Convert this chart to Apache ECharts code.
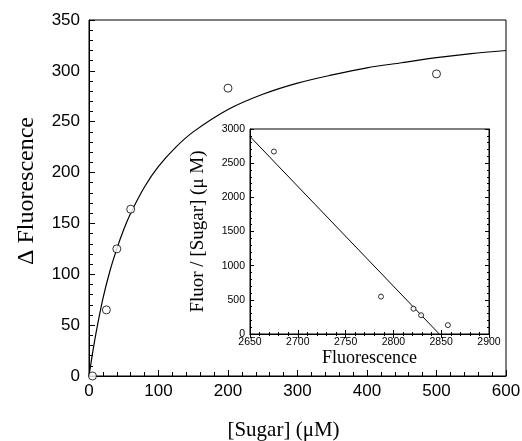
<!DOCTYPE html>
<html>
<head>
<meta charset="utf-8">
<script src="https://cdn.jsdelivr.net/npm/echarts@6/dist/echarts.min.js"></script>
<style>
  html, body { margin: 0; padding: 0; background: #fff; }
  #chart { width: 522px; height: 441px; }
</style>
</head>
<body>
<div id="chart"></div>
<script>
// main plot: measured points
const sugarConc = [5, 25, 40, 60, 200, 500]
const deltaFluor = [0, 65, 125, 164, 283, 297]

// main plot: fitted curve
const curveX = [0, 5, 10, 20, 30, 40, 50, 60, 80, 100, 125, 150, 200, 250, 300, 350, 400, 450, 500, 550, 600]
const curveY = [0, 22, 42, 76, 103, 125, 144, 160, 186, 206, 225, 240, 262, 277, 288, 296, 303, 308, 313, 317, 320]

// inset: Scatchard-type plot
const insetFluor = [2675, 2787, 2821, 2829, 2857]
const insetRatio = [2670, 547, 370, 275, 130]
const insetLineX = [2650, 2848]
const insetLineY = [2890, 0]

const chart = echarts.init(document.getElementById('chart'))

const sans = "'Liberation Sans', Arial, sans-serif"
const serif = "'Liberation Serif', 'Times New Roman', serif"

function pairs(xs, ys) {
  return xs.map((x, i) => [x, ys[i]])
}

const plain = v => String(v)
const tickIn = (len) => ({ show: true, inside: true, length: len, lineStyle: { color: '#000', width: 1 } })
const minorIn = (len) => ({ show: true, splitNumber: 5, length: len, lineStyle: { color: '#000', width: 1 } })

chart.setOption({
  animation: false,
  backgroundColor: '#fff',
  grid: [
    { left: 89, right: 16, top: 20, bottom: 65, show: true, borderColor: '#000', borderWidth: 1, backgroundColor: 'transparent', outerBoundsMode: 'none' },
    { left: 250, right: 33, top: 129, bottom: 107, show: true, borderColor: '#000', borderWidth: 1, backgroundColor: '#fff', outerBoundsMode: 'none' }
  ],
  xAxis: [
    {
      gridIndex: 0, type: 'value', min: 0, max: 600, interval: 100,
      name: '[Sugar] (μM)', nameLocation: 'middle', nameGap: 44,
      nameTextStyle: { fontFamily: serif, fontSize: 21, color: '#000', padding: [0, 28, 0, 0] },
      axisLine: { lineStyle: { color: '#000' } },
      axisTick: tickIn(6), minorTick: minorIn(4),
      axisLabel: { fontFamily: sans, fontSize: 17, color: '#000', margin: 7, formatter: plain },
      splitLine: { show: false }
    },
    {
      gridIndex: 1, type: 'value', min: 2650, max: 2900, interval: 50,
      name: 'Fluorescence', nameLocation: 'middle', nameGap: 12,
      nameTextStyle: { fontFamily: serif, fontSize: 18, color: '#000' },
      axisLine: { lineStyle: { color: '#000' } },
      axisTick: tickIn(4), minorTick: minorIn(2),
      axisLabel: { fontFamily: sans, fontSize: 10.5, color: '#000', margin: 3, formatter: plain },
      splitLine: { show: false }
    },
    {
      gridIndex: 1, type: 'value', position: 'top', min: 2650, max: 2900, interval: 50,
      axisLine: { lineStyle: { color: '#000' } },
      axisTick: tickIn(4), minorTick: minorIn(2),
      axisLabel: { show: false }, splitLine: { show: false }
    }
  ],
  yAxis: [
    {
      gridIndex: 0, type: 'value', min: 0, max: 350, interval: 50,
      name: 'Δ Fluorescence', nameLocation: 'middle', nameGap: 50,
      nameTextStyle: { fontFamily: serif, fontSize: 24, color: '#000', padding: [0, 0, 0, 14] },
      axisLine: { lineStyle: { color: '#000' } },
      axisTick: tickIn(6), minorTick: minorIn(4),
      axisLabel: { fontFamily: sans, fontSize: 17, color: '#000', margin: 9, formatter: plain },
      splitLine: { show: false }
    },
    {
      gridIndex: 1, type: 'value', min: 0, max: 3000, interval: 500,
      name: 'Fluor / [Sugar] (μ M)', nameLocation: 'middle', nameGap: 42,
      nameTextStyle: { fontFamily: serif, fontSize: 19, color: '#000' },
      axisLine: { lineStyle: { color: '#000' } },
      axisTick: tickIn(4), minorTick: minorIn(2),
      axisLabel: { fontFamily: sans, fontSize: 10.5, color: '#000', margin: 5, formatter: plain },
      splitLine: { show: false }
    },
    {
      gridIndex: 1, type: 'value', position: 'right', min: 0, max: 3000, interval: 500,
      axisLine: { lineStyle: { color: '#000' } },
      axisTick: tickIn(4), minorTick: minorIn(2),
      axisLabel: { show: false }, splitLine: { show: false }
    }
  ],
  series: [
    {
      type: 'line', xAxisIndex: 0, yAxisIndex: 0,
      data: pairs(curveX, curveY), smooth: 0.3, showSymbol: false,
      lineStyle: { color: '#000', width: 1.2 }, z: 2
    },
    {
      type: 'scatter', xAxisIndex: 0, yAxisIndex: 0,
      data: pairs(sugarConc, deltaFluor), symbol: 'circle', symbolSize: 8,
      itemStyle: { color: '#fff', borderColor: '#000', borderWidth: 1 }, z: 3
    },
    {
      type: 'line', xAxisIndex: 1, yAxisIndex: 1,
      data: pairs(insetLineX, insetLineY), showSymbol: false,
      lineStyle: { color: '#000', width: 1 }, z: 4
    },
    {
      type: 'scatter', xAxisIndex: 1, yAxisIndex: 1,
      data: pairs(insetFluor, insetRatio), symbol: 'circle', symbolSize: 5,
      itemStyle: { color: '#fff', borderColor: '#000', borderWidth: 1 }, z: 5
    }
  ]
})
</script>
</body>
</html>
